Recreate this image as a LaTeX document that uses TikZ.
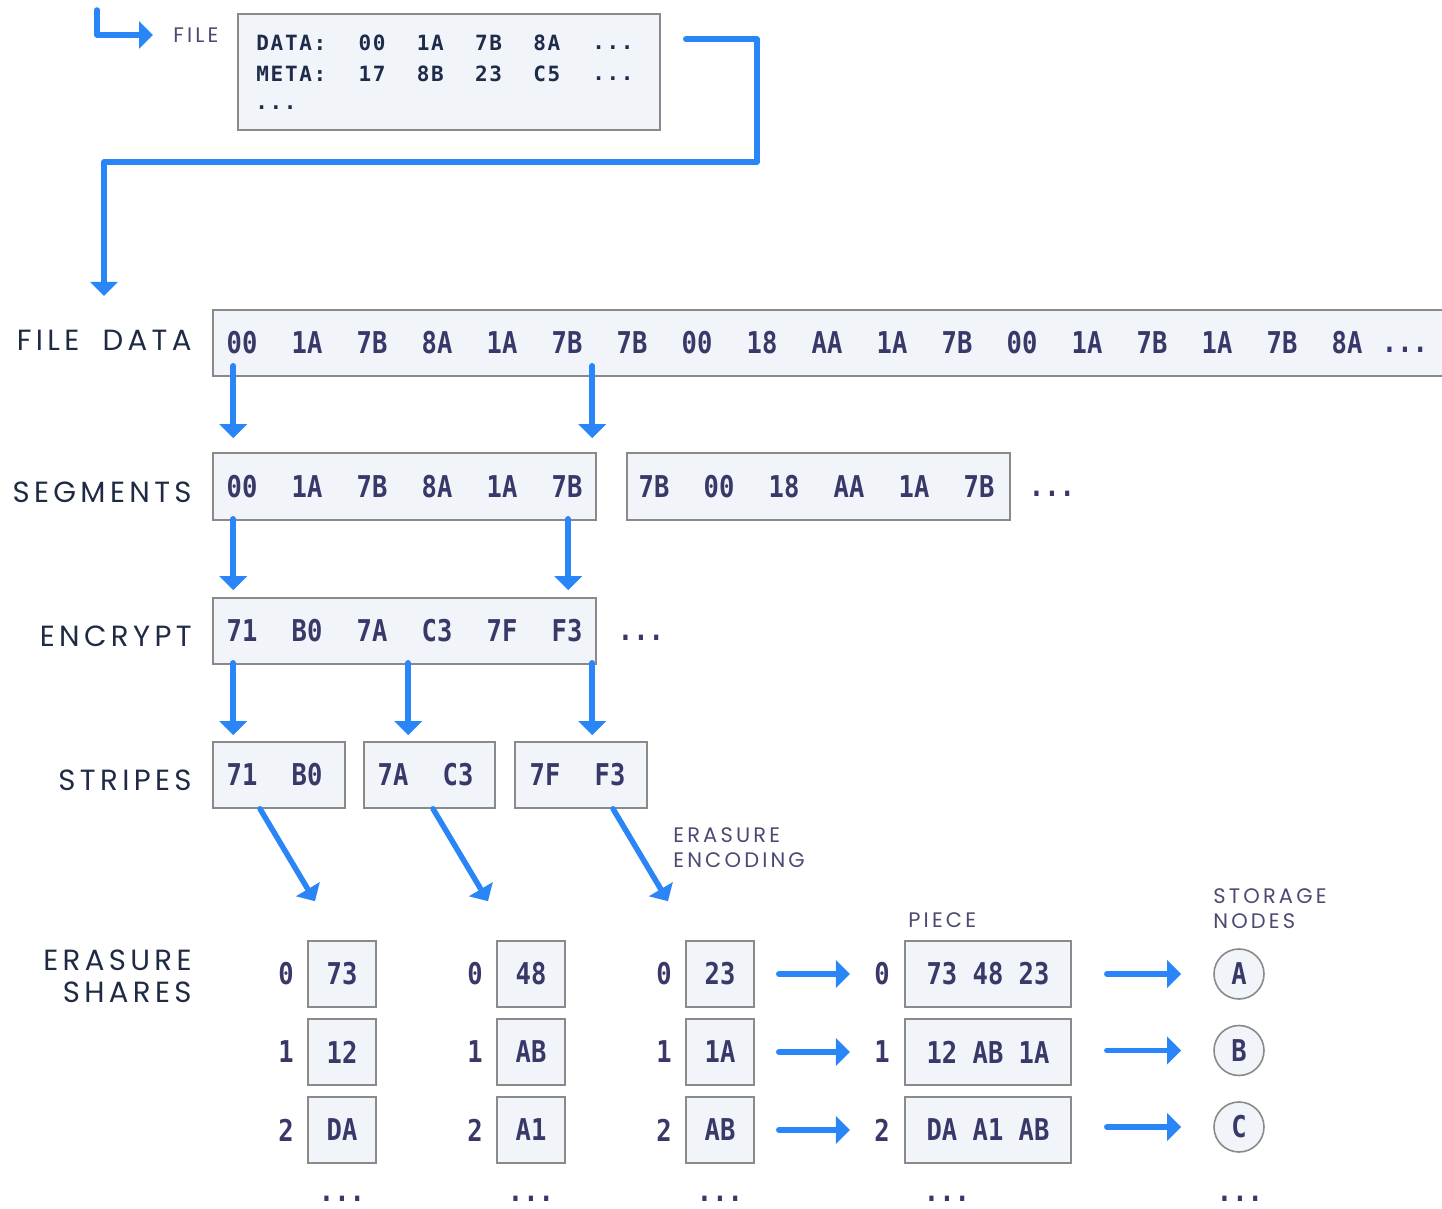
\documentclass[tikz,border=0pt]{standalone}
\usepackage{fontspec}
\usetikzlibrary{arrows.meta,calc}
\newfontfamily\lblfont[LetterSpace=15]{Poppins}
\newfontfamily\hexfont[FakeStretch=0.85]{DejaVu Sans Mono}
\newfontfamily\filefont[LetterSpace=8]{DejaVu Sans Mono}
\definecolor{flowblue}{HTML}{2A85F7}
\definecolor{boxfill}{HTML}{F1F5FA}
\definecolor{boxline}{HTML}{8A8A8A}
\definecolor{hexcol}{HTML}{3A3868}
\definecolor{lblcol}{HTML}{1F2A44}
\definecolor{smallcol}{HTML}{4B4A72}
\definecolor{filetext}{HTML}{1E2B4A}
\tikzset{
  box/.style={draw=boxline, fill=boxfill, line width=0.8pt, inner sep=0pt,
    text=hexcol, font=\hexfont\bfseries\fontsize{15}{18}\selectfont},
  hexv/.style={text=hexcol, inner sep=0pt, font=\hexfont\bfseries\fontsize{15}{18}\selectfont},
  ftxt/.style={text=filetext, inner sep=0pt, font=\filefont\bfseries\fontsize{10.5}{12}\selectfont},
  lbl/.style={text=lblcol, inner sep=0pt, font=\lblfont\fontsize{14.6}{16}\selectfont},
  lblsmall/.style={text=smallcol, inner sep=0pt, align=left, font=\lblfont\fontsize{10.5}{12.5}\selectfont},
  flow/.style={draw=flowblue, line width=2.75pt, line cap=round, line join=round,
    -{Triangle[width=13.5pt,length=7pt]}},
}
\begin{document}
\begin{tikzpicture}[x=0.5pt, y=-0.5pt]
  \useasboundingbox (0,0) rectangle (1442,1209);

  % the file
  \node[box, minimum width=211pt, minimum height=58pt] (filebox) at (449,72) {};
  \node[ftxt, anchor=west] (kdata) at (256,43) {DATA:};
  \node[ftxt, anchor=west] (kmeta) at (256,74) {META:};
  \foreach \t [count=\i from 0] in {00,1A,7B,8A}
    \node[ftxt] (fa\i) at (372+58.3*\i,43) {\t};
  \foreach \t [count=\i from 0] in {17,8B,23,C5}
    \node[ftxt] (fb\i) at (372+58.3*\i,74) {\t};
  \node[ftxt] (fadots) at (613,48) {...};
  \node[ftxt] (fbdots) at (613,79) {...};
  \node[ftxt] (fcdots) at (276,108) {...};
  \node[lblsmall, anchor=west] (lfile) at (173,35) {FILE};
  \coordinate (hooktop) at (97,10);
  \draw[flow] (hooktop) |- ([xshift=-10pt]lfile.west);

  % row labels
  \node[lbl, anchor=east] (lfdata) at (192,340) {FILE\hspace{5.5pt} DATA};
  \node[lbl, anchor=east] (lseg) at (192,492) {SEGMENTS};
  \node[lbl, anchor=east] (lenc) at (192,636) {ENCRYPT};
  \node[lbl, anchor=east] (lstr) at (192,780) {STRIPES};
  \node[lbl, anchor=east, align=right] (lshares) at (192,976) {ERASURE\\SHARES};

  \coordinate (fdin) at (104,296);
  \draw[flow] ($(filebox.north east)+(25,26)$) -| (757,162) -| (fdin);

  % file data
  \node[box, minimum width=616.5pt, minimum height=33pt] (fdata) at (829.5,343) {};
  \foreach \t [count=\i from 0] in {00,1A,7B,8A,1A,7B,7B,00,18,AA,1A,7B,00,1A,7B,1A,7B,8A}
    \node[hexv] (fd\i) at (242+65*\i,343) {\t};
  \node[hexv] (fddots) at (1405,350) {...};

  % segments
  \node[box, minimum width=191.5pt, minimum height=33.5pt] (seg1) at (404.5,486.5) {};
  \node[box, minimum width=191.5pt, minimum height=33.5pt] (seg2) at (818.5,486.5) {};
  \foreach \t [count=\i from 0] in {00,1A,7B,8A,1A,7B}
    \node[hexv] (sa\i) at (242+65*\i,487) {\t};
  \foreach \t [count=\i from 0] in {7B,00,18,AA,1A,7B}
    \node[hexv] (sb\i) at (654+65*\i,487) {\t};
  \node[hexv] (segdots) at (1052,494) {...};

  % encrypt
  \node[box, minimum width=191.5pt, minimum height=33pt] (enc) at (404.5,631) {};
  \foreach \t [count=\i from 0] in {71,B0,7A,C3,7F,F3}
    \node[hexv] (en\i) at (242+65*\i,631) {\t};
  \node[hexv] (encdots) at (641,638) {...};

  % stripes
  \node[box, minimum width=66pt, minimum height=33pt] (str1) at (279,775) {};
  \node[box, minimum width=65.5pt, minimum height=33pt] (str2) at (429.5,775) {};
  \node[box, minimum width=66pt, minimum height=33pt] (str3) at (581,775) {};
  \foreach \a/\b/\x [count=\k] in {71/B0/242, 7A/C3/393, 7F/F3/545} {
    \node[hexv] (st\k a) at (\x,775) {\a};
    \node[hexv] (st\k b) at (\x+65,775) {\b};
  }

  \draw[flow] ($(fdata.south west)+(21,-11)$) -- ($(seg1.north west)+(21,-14)$);
  \draw[flow] ($(fdata.south west)+(380,-11)$) -- ($(seg1.north west)+(380,-14)$);
  \draw[flow] ($(seg1.south west)+(21,-2)$) -- ($(enc.north west)+(21,-7)$);
  \draw[flow] ($(seg1.south west)+(356,-2)$) -- ($(enc.north west)+(356,-7)$);
  \draw[flow] ($(enc.south west)+(21,-2)$) -- ($(str1.north west)+(21,-6)$);
  \draw[flow] ($(enc.south west)+(196,-2)$) -- ($(str2.north west)+(45,-6)$);
  \draw[flow] ($(enc.south west)+(380,-2)$) -- ($(str3.north west)+(78,-6)$);

  \node[lblsmall, anchor=west] (lecode) at (673,847.5) {ERASURE\\ENCODING};

  % erasure shares
  \foreach \c/\x/\va/\vb/\vc in {1/342/73/12/DA, 2/531/48/AB/A1, 3/720/23/1A/AB} {
    \foreach \v [count=\r from 0] in {\va,\vb,\vc} {
      \node[box, minimum width=34pt, minimum height=33pt] (sh\c\r) at (\x,974+78*\r) {\v};
      \node[hexv] (ix\c\r) at (\x-56,974+78*\r) {\r};
    }
    \node[hexv] (shdots\c) at (\x,1199) {...};
  }

  \draw[flow] ($(str1.south)+(-19,0)$) -- ($(sh10.north)+(-27,-39)$);
  \draw[flow] ($(str2.south)+(3.5,0)$) -- ($(sh20.north)+(-43,-39)$);
  \draw[flow] ($(str3.south)+(32,0)$) -- ($(sh30.north)+(-52,-39)$);

  % pieces and storage nodes
  \node[lblsmall, anchor=west] (lpiece) at (908,920) {PIECE};
  \node[lblsmall, anchor=west] (lstore) at (1213,908.5) {STORAGE\\NODES};
  \foreach \v/\n [count=\r from 0] in {73 48 23/A, 12 AB 1A/B, DA A1 AB/C} {
    \node[box, minimum width=83pt, minimum height=33pt] (pc\r) at (988,974+78*\r) {\v};
    \node[hexv] (pix\r) at (882,974+78*\r) {\r};
    \node[box, circle, minimum size=25pt] (sn\r) at (1239,974+76.5*\r) {\n};
    \draw[flow, shorten <=12pt, shorten >=12pt] (sh3\r.east) -- (pix\r.west);
    \draw[flow, shorten <=17.5pt, shorten >=16pt] (pc\r.east |- sn\r.center) -- (sn\r.west);
  }
  \node[hexv] (pcdots) at (947,1199) {...};
  \node[hexv] (sndots) at (1240,1199) {...};
\end{tikzpicture}
\end{document}
